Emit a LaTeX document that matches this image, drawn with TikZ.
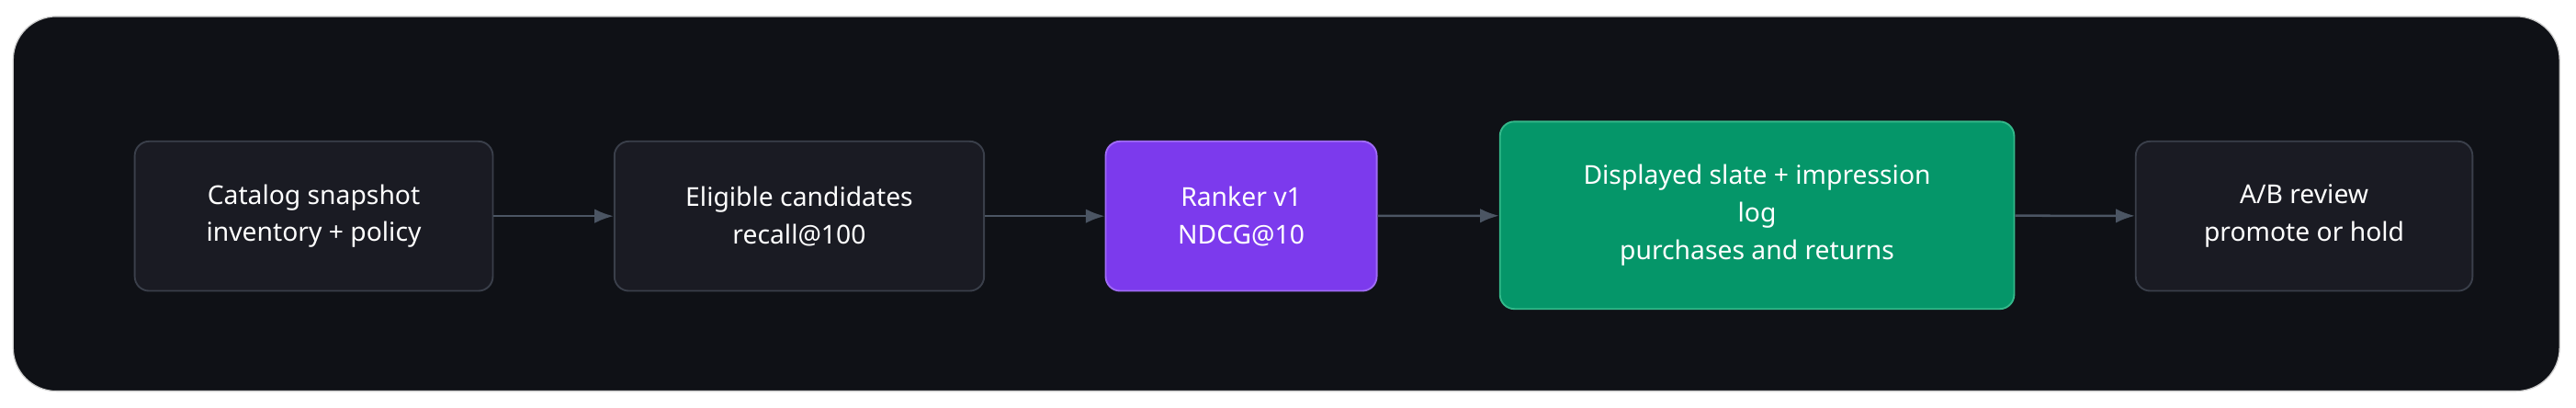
\documentclass[tikz,border=0pt]{standalone}
\usepackage{fontspec}
\setmainfont{Noto Sans}
\usetikzlibrary{arrows.meta}
\definecolor{bgdark}{HTML}{0F1116}
\definecolor{boxfill}{HTML}{1A1B23}
\definecolor{boxline}{HTML}{3A3F4A}
\definecolor{rankfill}{HTML}{7C3AED}
\definecolor{rankline}{HTML}{9F6BF5}
\definecolor{slatefill}{HTML}{059669}
\definecolor{slateline}{HTML}{34B88A}
\definecolor{arrowgray}{HTML}{4B5563}
\tikzset{
  stage/.style={draw=boxline, fill=boxfill, rounded corners=5pt, line width=0.6pt,
    text=white, align=center, font=\fontsize{9}{13}\selectfont},
  flow/.style={-Latex, arrowgray, line width=0.8pt}
}
\begin{document}
\begin{tikzpicture}[x=0.02cm,y=-0.02cm]
        \useasboundingbox (0,0) rectangle (1568,248);
        \fill [white] (0,0) rectangle (1568,248);
        \draw [rounded corners=15pt, fill=bgdark, draw=gray!40] (8,10) rectangle (1558,238);

        \node[stage, minimum width=218*0.02cm, minimum height=91*0.02cm] (catalog) at (191,131.5) {Catalog snapshot\\inventory + policy};
        \node[stage, minimum width=225*0.02cm, minimum height=91*0.02cm] (eligible) at (486.5,131.5) {Eligible candidates\\recall@100};
        \node[stage, fill=rankfill, draw=rankline, minimum width=165*0.02cm, minimum height=91*0.02cm] (ranker) at (755.5,131.5) {Ranker v1\\NDCG@10};
        \node[stage, fill=slatefill, draw=slateline, minimum width=313*0.02cm, minimum height=114*0.02cm] (slate) at (1069.5,131) {Displayed slate + impression\\log\\purchases and returns};
        \node[stage, minimum width=205*0.02cm, minimum height=91*0.02cm] (review) at (1402.5,131.5) {A/B review\\promote or hold};

        \draw [flow] (catalog) -- (eligible);
        \draw [flow] (eligible) -- (ranker);
        \draw [flow] (ranker) -- (slate);
        \draw [flow] (slate) -- (review);
    \end{tikzpicture}
\end{document}
